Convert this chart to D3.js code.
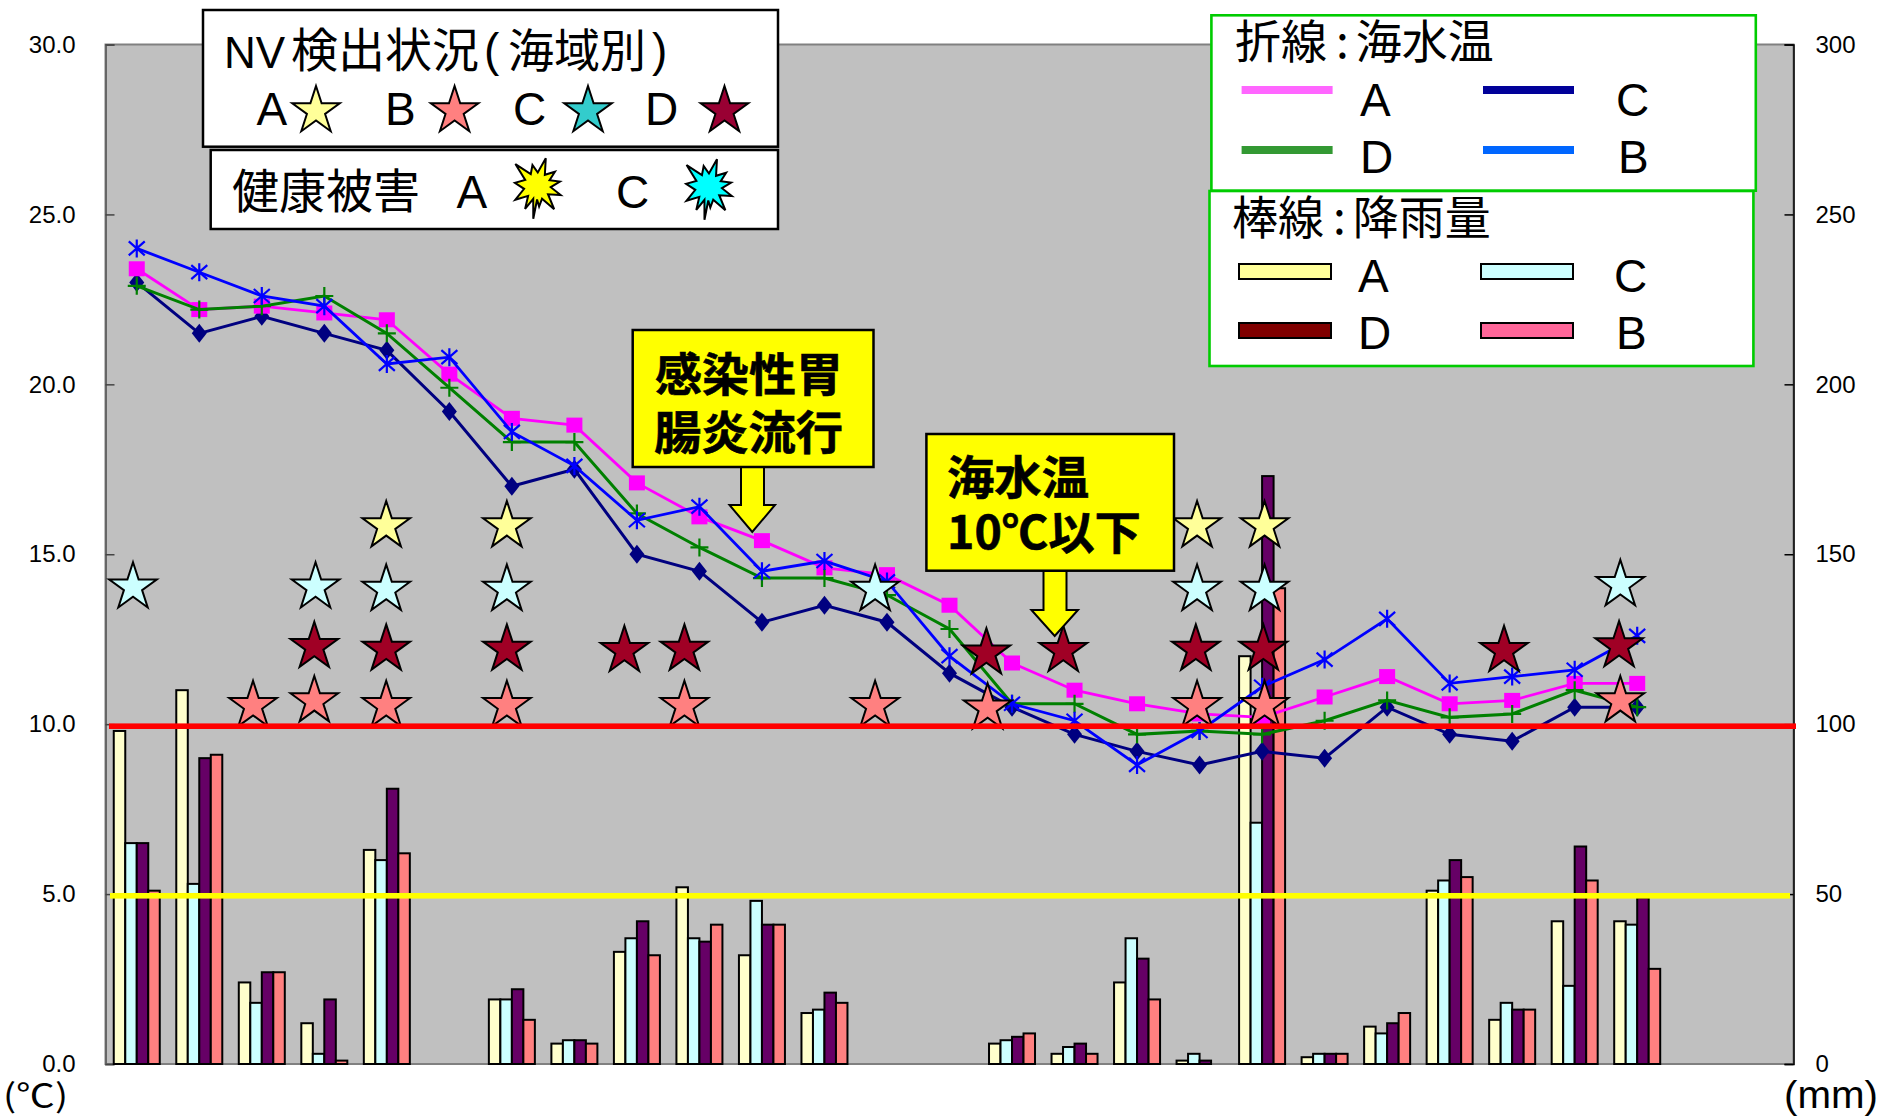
<!DOCTYPE html>
<html><head><meta charset="utf-8">
<script src="https://cdn.jsdelivr.net/npm/d3@7/dist/d3.min.js"></script>
<style>html,body{margin:0;padding:0;background:#fff}svg{display:block}text{font-family:"Liberation Sans","Noto Sans CJK JP",sans-serif;fill:#000}.cjk{font-family:"Noto Sans CJK JP",sans-serif}</style>
</head><body><div id="c"></div>
<script>
// categories: 25 samples on a 27-slot axis (labels not shown in the reference)
const categories = d3.range(27);
const tempTicks = [0,5,10,15,20,25,30];
const rainTicks = [0,50,100,150,200,250,300];
// sea temperature (°C)
const tempA = [23.4,22.2,22.3,22.1,21.9,20.3,19.0,18.8,17.1,16.1,15.4,14.6,14.4,13.5,11.8,11.0,10.6,10.3,10.2,10.8,11.4,10.6,10.7,11.2,11.2];
const tempB = [24.0,23.3,22.6,22.3,20.6,20.8,18.6,17.6,16.0,16.4,14.5,14.8,14.2,12.0,10.6,10.1,8.8,9.8,11.1,11.9,13.1,11.2,11.4,11.6,12.6];
const tempC = [23.0,21.5,22.0,21.5,21.0,19.2,17.0,17.5,15.0,14.5,13.0,13.5,13.0,11.5,10.5,9.7,9.2,8.8,9.2,9.0,10.5,9.7,9.5,10.5,10.5];
const tempD = [22.9,22.2,22.3,22.6,21.5,19.9,18.3,18.3,16.2,15.2,14.3,14.3,13.8,12.8,10.6,10.6,9.7,9.8,9.7,10.1,10.7,10.2,10.3,11.0,10.5];
// rainfall (mm)
const rainA = [98,110,24,12,63,0,19,6,33,52,32,15,0,0,6,3,24,1,120,2,11,51,13,42,42];
const rainC = [65,53,18,3,60,0,19,7,37,37,48,16,0,0,7,5,37,3,71,3,9,54,18,23,41];
const rainD = [65,90,27,19,81,0,22,7,42,36,41,21,0,0,8,6,31,1,173,3,12,60,16,64,49];
const rainB = [51,91,27,1,62,0,13,6,32,41,41,18,0,0,9,3,19,0,140,3,15,55,16,54,28];
// NV detection stars: [category position, height on temperature axis]
const starsA = [[3.99,15.83],[5.92,15.83],[16.96,15.83],[18.04,15.83]];
const starsC = [[-0.06,14.03],[2.86,14.03],[3.99,13.96],[5.92,13.96],[11.81,13.96],[16.96,13.96],[18.04,13.96],[23.73,14.10]];
const starsD = [[2.84,12.28],[3.99,12.20],[5.92,12.20],[7.80,12.16],[8.76,12.20],[13.59,12.09],[14.82,12.16],[16.94,12.20],[18.02,12.20],[21.87,12.16],[23.71,12.30]];
const starsB = [[1.86,10.54],[2.84,10.68],[3.99,10.54],[5.92,10.54],[8.76,10.54],[11.81,10.54],[13.61,10.47],[16.96,10.54],[18.04,10.54],[23.73,10.68]];
// burst outline: spike angles (deg clockwise from up) and spike radii
const burstAngles = [17,51,79,111,144,175,187,208,238,278,315,347];
const burstRadii  = [29,22.7,23,25,28.7,20.7,33,26,26,22.6,31,21.5];

const W=1879,H=1118,L=105.5,R=1793.5,T=44.5,B=1064;
const svg=d3.select('#c').append('svg').attr('width',W).attr('height',H);
const x=d3.scaleBand().domain(categories).range([L,R]);
const inner=d3.scaleBand().domain(['A','C','D','B']).range([0,46]);
const innerOff=(x.bandwidth()-46)/2;
const yT=d3.scaleLinear().domain([0,30]).range([B,T]);
const yR=d3.scaleLinear().domain([0,300]).range([B,T]);
const cx=i=>x(0)+x.bandwidth()*(i+0.5);

svg.append('rect').attr('x',L).attr('y',T).attr('width',R-L).attr('height',B-T).attr('fill','#C0C0C0').attr('stroke','#808080').attr('stroke-width',2);

// axes
const aL=svg.append('g').attr('transform',`translate(${L},0)`).call(d3.axisLeft(yT).tickValues(tempTicks).tickFormat(d3.format('.1f')).tickSize(-9).tickPadding(39));
const aR=svg.append('g').attr('transform',`translate(${R},0)`).call(d3.axisRight(yR).tickValues(rainTicks).tickFormat(d3.format('d')).tickSize(-9).tickPadding(31));
aL.select('.domain').attr('stroke','#666').attr('stroke-width',2);
aR.select('.domain').attr('stroke','#000').attr('stroke-width',1.5);
aL.selectAll('.tick line').attr('stroke','#444').attr('stroke-width',1.5);
aR.selectAll('.tick line').attr('stroke','#000').attr('stroke-width',1.5);
svg.selectAll('.tick text').style('font-size','24px').style('font-family','"Liberation Sans"').attr('fill','#000');
aL.selectAll('.tick text').attr('text-anchor','end').attr('x',-30);
aR.selectAll('.tick text').attr('x',22);

// bars
const barSeries=[['A',rainA,'#FFFFCC'],['C',rainC,'#CCFFFF'],['D',rainD,'#660066'],['B',rainB,'#FF8080']];
barSeries.forEach(([k,vals,col])=>{
  svg.append('g').selectAll('rect').data(vals.map((v,i)=>[i,v]).filter(d=>d[1]>0)).join('rect')
    .attr('x',d=>x(d[0])+innerOff+inner(k)).attr('y',d=>yR(d[1]))
    .attr('width',inner.bandwidth()).attr('height',d=>B-yR(d[1]))
    .attr('fill',col).attr('stroke','#000').attr('stroke-width',2);
});

// lines
const lineGen=d3.line().x((d,i)=>cx(i)).y(d=>yT(d));
const drawLine=(vals,col,w)=>svg.append('path').attr('d',lineGen(vals)).attr('fill','none').attr('stroke',col).attr('stroke-width',w);
const pts=vals=>vals.map((v,i)=>[cx(i),yT(v)]);
drawLine(tempC,'#000080',3);
svg.append('g').selectAll('path').data(pts(tempC)).join('path').attr('transform',d=>`translate(${d})`).attr('d','M0,-9.5L7.5,0L0,9.5L-7.5,0Z').attr('fill','#000080');
drawLine(tempA,'#FF00FF',2.8);
svg.append('g').selectAll('rect').data(pts(tempA)).join('rect').attr('x',d=>d[0]-8).attr('y',d=>d[1]-7.5).attr('width',16).attr('height',15).attr('fill','#FF00FF');
drawLine(tempD,'#008000',3);
svg.append('g').selectAll('path').data(pts(tempD)).join('path').attr('transform',d=>`translate(${d})`).attr('d','M-9,0H9M0,-9V9').attr('stroke','#008000').attr('stroke-width',2.2).attr('fill','none');
drawLine(tempB,'#0000FF',2.8);
svg.append('g').selectAll('path').data(pts(tempB)).join('path').attr('transform',d=>`translate(${d})`).attr('d','M-8,-7L8,7M8,-7L-8,7M0,-9V9').attr('stroke','#0000FF').attr('stroke-width',2.2).attr('fill','none');

// star helper
const starR=25;
function starPath(r){const p=[];for(let i=0;i<10;i++){const a=-Math.PI/2+i*Math.PI/5,q=i%2?r*0.382:r;p.push([q*Math.cos(a),q*Math.sin(a)]);}return 'M'+p.join('L')+'Z';}
const drawStars=(arr,col)=>svg.append('g').selectAll('path').data(arr).join('path')
  .attr('transform',d=>`translate(${cx(d[0])},${yT(d[1])})`).attr('d',starPath(starR))
  .attr('fill',col).attr('stroke','#000').attr('stroke-width',2);
drawStars(starsC,'#CCFFFF');drawStars(starsA,'#FFFF99');drawStars(starsD,'#A00025');drawStars(starsB,'#FF8080');

// reference lines
svg.append('rect').attr('x',109).attr('y',yT(9.94)-2.8).attr('width',1687).attr('height',5.6).attr('fill','#FF0000');
svg.append('rect').attr('x',110).attr('y',yT(4.95)-2.8).attr('width',1680).attr('height',5.6).attr('fill','#FFFF00');

// text helper
function txt(s,px,py,size,o={}){const t=svg.append('text').attr('x',px).attr('y',py).attr('font-size',size).text(s);
  if(o.cjk)t.attr('class','cjk');if(o.bold)t.attr('font-weight','bold').attr('stroke','#000').attr('stroke-width',0.6);if(o.len)t.attr('textLength',o.len).attr('lengthAdjust','spacingAndGlyphs');if(o.anchor)t.attr('text-anchor',o.anchor);return t;}
function box(x0,y0,x1,y1,fill,stroke,w){svg.append('rect').attr('x',x0).attr('y',y0).attr('width',x1-x0).attr('height',y1-y0).attr('fill',fill).attr('stroke',stroke).attr('stroke-width',w);}
function arrow(sx0,sx1,hx0,hx1,y0,y1,y2){const mx=(hx0+hx1)/2;svg.append('path').attr('d',`M${sx0},${y0}L${sx1},${y0}L${sx1},${y1}L${hx1},${y1}L${mx},${y2}L${hx0},${y1}L${sx0},${y1}Z`).attr('fill','#FFFF00').attr('stroke','#000').attr('stroke-width',2);}

// callouts
arrow(741,764,729.5,775,467,505,532);
box(632.7,330,873.5,467,'#FFFF00','#000',2.5);
txt('感染性胃',655,391,46,{cjk:1,bold:1,len:188});
txt('腸炎流行',654,449,46,{cjk:1,bold:1,len:189});
arrow(1043.5,1066.5,1031.4,1078,571,610,636);
box(926.4,434,1174,570.7,'#FFFF00','#000',2.5);
txt('海水温',947,494,46,{cjk:1,bold:1,len:142});
txt('10℃以下',947,549,46,{cjk:1,bold:1,len:194});

// NV legend
box(203,10,778,146.7,'#fff','#000',2.5);
txt('NV',224,68,44);
txt('検出状況',291,67,47,{cjk:1});
txt('(',484,66,46);
txt('海域別',508,67,46,{cjk:1});
txt(')',652,66,46);
[['A',256.6,316,'#FFFF99'],['B',385,454.6,'#FF8080'],['C',513,588,'#33CCCC'],['D',645,724.5,'#990033']].forEach(([l,tx,sx,c])=>{
  txt(l,tx,125,46);
  svg.append('path').attr('transform',`translate(${sx},111)`).attr('d',starPath(25)).attr('fill',c).attr('stroke','#000').attr('stroke-width',2);
});
// health legend
box(210.7,150,778,229,'#fff','#000',2.5);
txt('健康被害',232,208,47,{cjk:1});
txt('A',456.6,208,46);txt('C',616,208,46);
const burstPts=burstAngles.flatMap((a,i)=>{const n=burstAngles[(i+1)%burstAngles.length];const m=(a+((n-a+360)%360)/2)*Math.PI/180;return [[a*Math.PI/180,burstRadii[i]],[m,13.5]];});
const burst=d3.lineRadial().curve(d3.curveLinearClosed).angle(d=>d[0]).radius(d=>d[1]);
svg.append('path').attr('transform','translate(537.3,186)').attr('d',burst(burstPts)).attr('fill','#FFFF00').attr('stroke','#000').attr('stroke-width',2);
svg.append('path').attr('transform','translate(708.5,187)').attr('d',burst(burstPts)).attr('fill','#00FFFF').attr('stroke','#000').attr('stroke-width',2);

// right legends
function legTitle(a,c,xp,yp){const t=svg.append('text').attr('class','cjk').attr('x',xp).attr('y',yp).attr('font-size',46);t.append('tspan').text(a);t.append('tspan').attr('dx',9).text(':');t.append('tspan').attr('dx',7).text(c);}
box(1211.4,15.3,1755.8,190.7,'#fff','#00CC00',2.6);
legTitle('折線','海水温',1235,58);
[[1241.6,90,'#FF66FF'],[1483,90,'#000099'],[1241.6,150,'#339933'],[1483,150,'#0066FF']].forEach(([a,b,c])=>svg.append('rect').attr('x',a).attr('y',b-4).attr('width',91).attr('height',8).attr('fill',c));
txt('A',1360,115.7,46);txt('C',1616,115.7,46);txt('D',1360,173.3,46);txt('B',1618,173.3,46);
box(1209.5,191,1753.4,366,'#fff','#00CC00',2.6);
legTitle('棒線','降雨量',1232,234);
[[1239,264,'#FFFF99'],[1481,264,'#CCFFFF'],[1239,323,'#800000'],[1481,323,'#FF6699']].forEach(([a,b,c])=>svg.append('rect').attr('x',a).attr('y',b).attr('width',92).attr('height',15).attr('fill',c).attr('stroke','#000').attr('stroke-width',2));
txt('A',1358,292,46);txt('C',1614,292,46);txt('D',1358,349,46);txt('B',1616,349,46);

// units
txt('(℃)',3,1107,32,{cjk:1,len:65});
txt('(mm)',1784,1108,38,{len:94});
</script></body></html>
